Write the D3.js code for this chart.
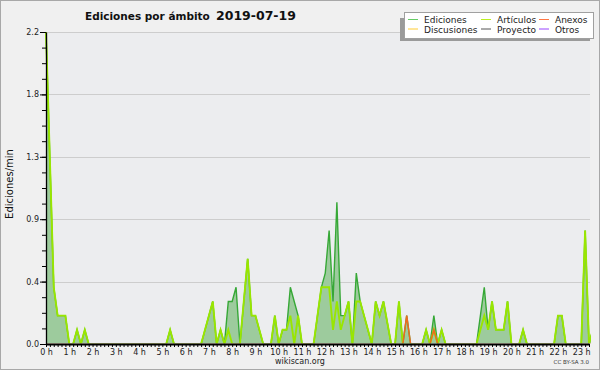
<!DOCTYPE html>
<html><head><meta charset="utf-8">
<script src="https://cdn.jsdelivr.net/npm/d3@7"></script>
<style>html,body{margin:0;padding:0;background:#f0f0f0;} svg{display:block;}</style>
</head><body>
<svg id="c" width="600" height="370"></svg>
<script>
// ---------- data ----------
const titleText = "Ediciones por ámbito";
const dateText = "2019-07-19";
const yLabelText = "Ediciones/min";
const footerText = "wikiscan.org";
const licenseText = "CC BY-SA 3.0";
const legendNames = ["Ediciones", "Artículos", "Anexos", "Discusiones", "Proyecto", "Otros"];
const legendColors = ["#66cc66", "#bbee22", "#ff7744", "#ffcc33", "#555555", "#9944ff"];
const yMajorTicks = [0, 0.44, 0.88, 1.32, 1.76, 2.2];
const yTickLabels = ["0.0", "0.4", "0.9", "1.3", "1.8", "2.2"];
const hourLabels = ["0 h","1 h","2 h","3 h","4 h","5 h","6 h","7 h","8 h","9 h","10 h","11 h",
  "12 h","13 h","14 h","15 h","16 h","17 h","18 h","19 h","20 h","21 h","22 h","23 h"];
const stepMinutes = 10;   // one value every 10 minutes, starting at 0 h
const lastMinute = 1400;  // 23 h 20

// edits per minute, one value per 10-minute slot
const ediciones = [
  2.2, 1.3, 0.4, 0.2, 0.2, 0.2, 0,   0,   0.1, 0,   0.1, 0,   // 0h-1h50
  0,   0,   0,   0,   0,   0,   0,   0,   0,   0,   0,   0,   // 2h-3h50
  0,   0,   0,   0,   0,   0,   0,   0,   0.1, 0,   0,   0,   // 4h-5h50
  0,   0,   0,   0,   0,   0.1, 0.2, 0.3, 0,   0.1, 0,   0.3, // 6h-7h50
  0.3, 0.4, 0,   0.3, 0.6, 0.2, 0.2, 0.1, 0,   0,   0,   0.2, // 8h-9h50
  0,   0.1, 0.1, 0.4, 0.3, 0.2, 0,   0,   0,   0,   0.2, 0.4, // 10h-11h50
  0.5, 0.8, 0.3, 1.0, 0.2, 0.2, 0.3, 0,   0.5, 0.3, 0.2, 0.1, // 12h-13h50
  0,   0.3, 0.2, 0.3, 0.15,0,   0,   0.3, 0,   0.2, 0,   0,   // 14h-15h50
  0,   0,   0.1, 0,   0.2, 0,   0.1, 0,   0,   0,   0,   0,   // 16h-17h50
  0,   0,   0,   0,   0.2, 0.4, 0.1, 0.3, 0.1, 0.1, 0.1, 0.3, // 18h-19h50
  0,   0,   0,   0.1, 0,   0,   0,   0,   0,   0,   0,   0,   // 20h-21h50
  0.2, 0.2, 0,   0,   0,   0,   0,   0.8, 0,   0.1            // 22h-23h20
];
const articulos = [
  2.2, 1.3, 0.4, 0.2, 0.2, 0.2, 0,   0,   0.1, 0,   0.1, 0,
  0,   0,   0,   0,   0,   0,   0,   0,   0,   0,   0,   0,
  0,   0,   0,   0,   0,   0,   0,   0,   0.1, 0,   0,   0,
  0,   0,   0,   0,   0,   0.1, 0.2, 0.3, 0,   0.1, 0,   0.1,
  0,   0,   0,   0.3, 0.6, 0.2, 0.2, 0.1, 0,   0,   0,   0.2,
  0,   0.1, 0.1, 0.2, 0,   0.2, 0,   0,   0,   0,   0.2, 0.4,
  0.4, 0.4, 0.1, 0.3, 0.1, 0.2, 0.3, 0,   0.3, 0.3, 0.2, 0.1,
  0,   0.3, 0.2, 0.3, 0.15,0,   0,   0.3, 0,   0,   0,   0,
  0,   0,   0.1, 0,   0.1, 0,   0.1, 0,   0,   0,   0,   0,
  0,   0,   0,   0,   0.1, 0.2, 0.1, 0.3, 0.1, 0.1, 0.1, 0.3,
  0,   0,   0,   0.1, 0,   0,   0,   0,   0,   0,   0,   0,
  0.2, 0.2, 0,   0,   0,   0,   0,   0.8, 0,   0.1
];
const anexos = [
  0,0,0,0,0,0,0,0,0,0,0,0, 0,0,0,0,0,0,0,0,0,0,0,0,
  0,0,0,0,0,0,0,0,0,0,0,0, 0,0,0,0,0,0,0,0,0,0,0,0,
  0,0,0,0,0,0,0,0,0,0,0,0, 0,0,0,0,0,0,0,0,0,0,0,0,
  0,0,0,0,0,0,0,0,0,0,0,0, 0,0,0,0,0,0,0,0,0,0.2,0,0,
  0,0,0,0,0.1,0,0,0,0,0,0,0, 0,0,0,0,0,0,0,0,0,0,0,0,
  0,0,0,0,0,0,0,0,0,0,0,0, 0,0,0,0,0,0,0,0,0,0
];

// ---------- drawing ----------
const svg = d3.select("#c");
const W = 600, H = 370;
const pL = 46, pR = 589, pT = 32, pB = 344;

svg.append("rect").attr("x", 0.5).attr("y", 0.5).attr("width", W - 1).attr("height", H - 1)
  .attr("fill", "#f0f0f0").attr("stroke", "#a8a8a8");
svg.append("rect").attr("x", pL).attr("y", pT).attr("width", pR - pL + 1).attr("height", pB - pT)
  .attr("fill", "#ecedef");

const x = d3.scaleLinear().domain([0, lastMinute]).range([pL, pR]);
const y = d3.scaleLinear().domain([0, 2.2]).range([pB, pT]);

// gridlines
svg.append("g").selectAll("line").data(yMajorTicks.filter(v => v > 0)).join("line")
  .attr("x1", pL).attr("x2", pR + 1)
  .attr("y1", d => Math.round(y(d)) + 0.5).attr("y2", d => Math.round(y(d)) + 0.5)
  .attr("stroke", "#cdcdcd").attr("stroke-width", 1);

// series
const defs = svg.append("defs");
defs.append("clipPath").attr("id", "clip").append("rect")
  .attr("x", pL - 2).attr("y", 0).attr("width", pR - pL + 4).attr("height", pB - 0.8);

const g = svg.append("g").attr("clip-path", "url(#clip)");
const toPts = arr => arr.map((v, i) => [i * stepMinutes, v]);

const area = d3.area().x(d => x(d[0])).y0(y(0)).y1(d => y(d[1]));
const line = d3.line().x(d => x(d[0])).y(d => y(d[1]));

g.append("path").datum(toPts(ediciones)).attr("d", area).attr("fill", "#9dcb9d");
g.append("path").datum(toPts(ediciones)).attr("d", line)
  .attr("fill", "none").attr("stroke", "#36a836").attr("stroke-width", 1.4);
g.append("path").datum(toPts(articulos)).attr("d", line)
  .attr("fill", "none").attr("stroke", "#99e600").attr("stroke-width", 1.9);
g.append("path").datum(toPts(anexos)).attr("d", line)
  .attr("fill", "none").attr("stroke", "#ee6a1e").attr("stroke-width", 1.5);

// y axis: minor ticks
const yMinor = d3.range(0, 2.2001, 0.11);
svg.append("g").attr("transform", `translate(${pL},0)`)
  .call(d3.axisLeft(y).tickValues(yMinor).tickSize(4).tickFormat(""))
  .call(s => s.select(".domain").remove())
  .call(s => s.selectAll("line").attr("stroke", "#000"));
// y axis: major ticks + labels
svg.append("g").attr("transform", `translate(${pL},0)`)
  .call(d3.axisLeft(y).tickValues(yMajorTicks).tickSize(6).tickSizeOuter(0).tickPadding(1)
    .tickFormat((d, i) => yTickLabels[i]))
  .call(s => s.select(".domain").attr("stroke", "#000").attr("stroke-width", 1.3))
  .call(s => s.selectAll("text").attr("font-family", "DejaVu Sans").attr("font-size", 8).attr("fill", "#222"));

// x axis
const xTicks = d3.range(0, lastMinute + 1, stepMinutes);
svg.append("g").attr("transform", `translate(0,${pB})`)
  .call(d3.axisBottom(x).tickValues(xTicks).tickSize(3).tickSizeOuter(0).tickPadding(2)
    .tickFormat(d => d % 60 === 0 ? hourLabels[d / 60] : ""))
  .call(s => s.select(".domain").attr("stroke", "#000").attr("stroke-width", 2))
  .call(s => s.selectAll("line").attr("stroke", "#000").attr("stroke-width", 1))
  .call(s => s.selectAll("text").attr("font-family", "DejaVu Sans").attr("font-size", 8).attr("fill", "#222"));

// y label
svg.append("text").attr("transform", "translate(13,184) rotate(-90)")
  .attr("text-anchor", "middle").attr("font-family", "DejaVu Sans").attr("font-size", 10)
  .attr("fill", "#111").text(yLabelText);

// title
svg.append("text").attr("x", 85).attr("y", 20).attr("font-family", "DejaVu Sans")
  .attr("font-weight", "bold").attr("font-size", 10.5).attr("fill", "#111").text(titleText);
svg.append("text").attr("x", 216).attr("y", 20).attr("font-family", "DejaVu Sans")
  .attr("font-weight", "bold").attr("font-size", 12.5).attr("fill", "#111").text(dateText);

// footer
svg.append("text").attr("x", 300).attr("y", 364).attr("text-anchor", "middle")
  .attr("font-family", "DejaVu Sans").attr("font-size", 8).attr("fill", "#222").text(footerText);
svg.append("text").attr("x", 589).attr("y", 364.3).attr("text-anchor", "end")
  .attr("font-family", "DejaVu Sans").attr("font-size", 5.5).attr("fill", "#333").text(licenseText);

// legend
const lg = svg.append("g");
lg.append("rect").attr("x", 400).attr("y", 18).attr("width", 190).attr("height", 23).attr("fill", "#9a9a9a");
lg.append("rect").attr("x", 404.5).attr("y", 12.5).attr("width", 189).attr("height", 26)
  .attr("fill", "#fff").attr("stroke", "#a0a0a0");
const colX = [408, 481, 539];
const rowY = [19.5, 29];
legendNames.forEach((name, i) => {
  const c = i % 3, r = Math.floor(i / 3);
  lg.append("line").attr("x1", colX[c]).attr("x2", colX[c] + 10)
    .attr("y1", rowY[r]).attr("y2", rowY[r]).attr("stroke", legendColors[i]).attr("stroke-width", 1);
  lg.append("text").attr("x", colX[c] + 16).attr("y", rowY[r] + 3.5)
    .attr("font-family", "DejaVu Sans").attr("font-size", 9).attr("fill", "#222").text(name);
});
</script>
</body></html>
